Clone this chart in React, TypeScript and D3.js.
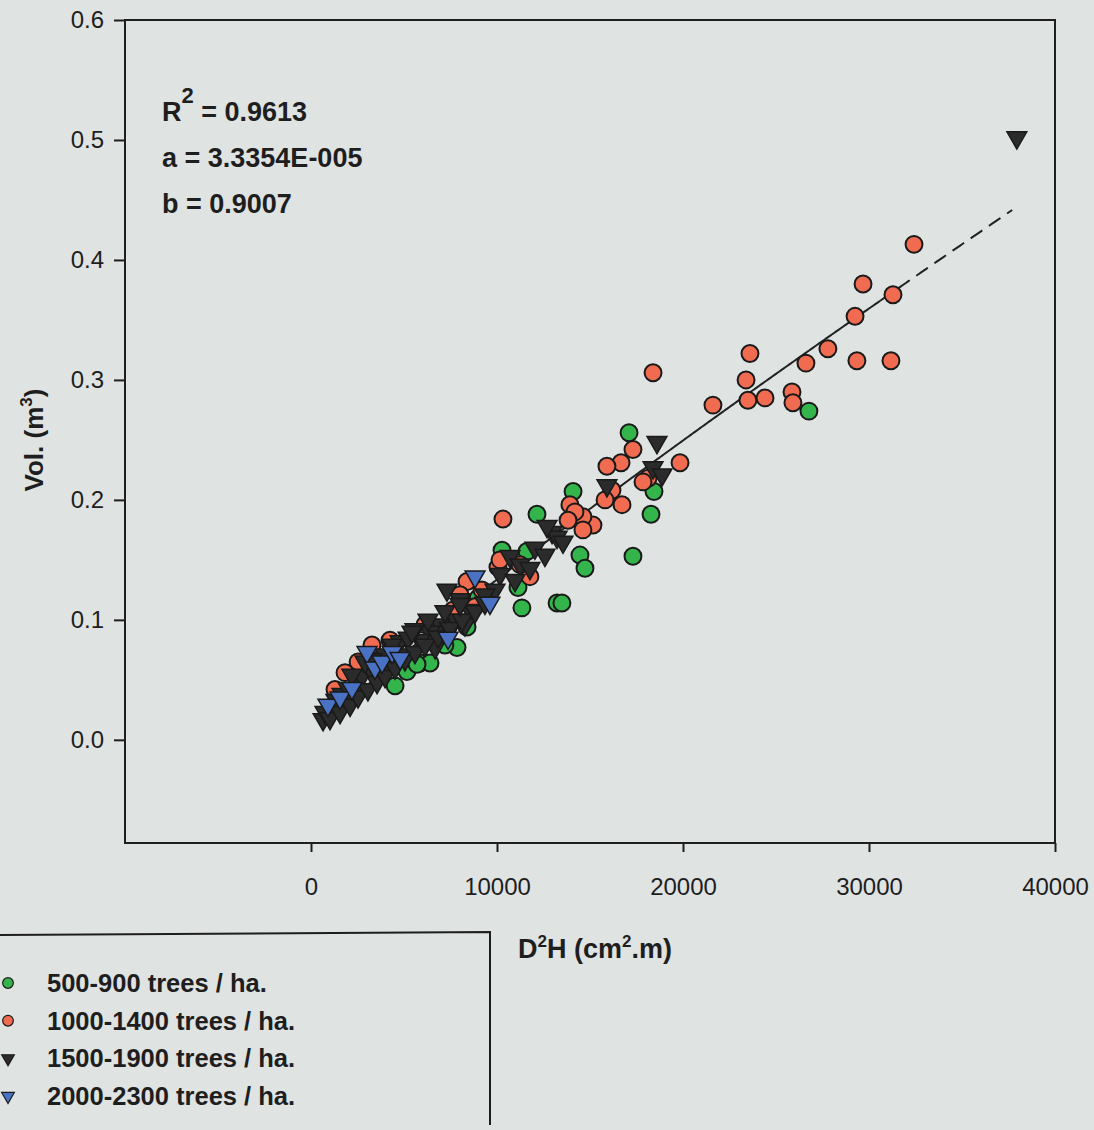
import React, { useEffect, useRef } from 'react';
import * as d3 from 'd3';

// D2H (cm2.m), Vol (m3)
const trees500to900 = [
  [26770, 0.274], [17100, 0.256], [18440, 0.207], [18280, 0.188], [17310, 0.153],
  [14090, 0.207], [14460, 0.154], [14730, 0.143], [12150, 0.188], [10270, 0.158],
  [11610, 0.157], [11130, 0.127], [11340, 0.110], [13230, 0.114], [13490, 0.114],
  [8390, 0.094], [7850, 0.077], [5860, 0.064], [6400, 0.064], [4520, 0.045],
  [5160, 0.057], [5700, 0.063], [7200, 0.079], [8980, 0.118],
];
const trees1000to1400 = [
  [32420, 0.413], [29680, 0.380], [31290, 0.371], [29250, 0.353], [27790, 0.326],
  [26610, 0.314], [29350, 0.316], [31180, 0.316], [23600, 0.322], [23390, 0.300],
  [23490, 0.283], [24410, 0.285], [25860, 0.290], [25910, 0.281], [21610, 0.279],
  [18390, 0.306], [19840, 0.231], [17310, 0.242], [16670, 0.231], [15910, 0.228],
  [18120, 0.218], [17850, 0.215], [16180, 0.208], [15810, 0.200], [16720, 0.196],
  [15160, 0.179], [14620, 0.186], [13920, 0.196], [14190, 0.190], [14620, 0.175],
  [13820, 0.183], [10320, 0.184], [10050, 0.144], [11770, 0.136], [8390, 0.132],
  [9190, 0.125], [8820, 0.111], [7630, 0.108], [1830, 0.056], [2530, 0.065],
  [3280, 0.079], [10160, 0.150], [11240, 0.146], [8010, 0.121], [1290, 0.042],
  [4250, 0.083], [6130, 0.096],
];
const trees1500to1900 = [
  [37950, 0.502], [18600, 0.248], [18390, 0.227], [18870, 0.221], [15910, 0.212],
  [12960, 0.173], [13230, 0.169], [13550, 0.165], [12690, 0.178], [10700, 0.153],
  [11240, 0.146], [11770, 0.143], [10160, 0.138], [10970, 0.133], [9890, 0.125],
  [9350, 0.121], [7310, 0.125], [8010, 0.117], [8550, 0.108], [7740, 0.100],
  [6940, 0.096], [6400, 0.090], [5860, 0.083], [6670, 0.077], [7470, 0.092],
  [8280, 0.096], [650, 0.017], [750, 0.023], [1020, 0.028], [1340, 0.033],
  [1670, 0.038], [1990, 0.043], [2370, 0.050], [2740, 0.053], [3170, 0.060],
  [3600, 0.067], [3980, 0.071], [4410, 0.077], [4790, 0.082], [5220, 0.085],
  [4140, 0.063], [2630, 0.042], [1830, 0.033], [4790, 0.071], [5590, 0.092],
  [2900, 0.065], [1020, 0.018], [1560, 0.023], [2100, 0.029], [2530, 0.036],
  [3060, 0.042], [3550, 0.048], [3980, 0.053], [4520, 0.060], [5050, 0.067],
  [5590, 0.073], [6130, 0.079], [6830, 0.086], [7470, 0.093], [8120, 0.100],
  [8820, 0.107], [9350, 0.114], [2200, 0.054], [3280, 0.067], [4360, 0.079],
  [5430, 0.090], [6290, 0.100], [7200, 0.107], [8010, 0.113], [12040, 0.160],
  [12580, 0.154],
];
const trees2000to2300 = [
  [910, 0.029], [1560, 0.035], [2200, 0.043], [3010, 0.073], [3440, 0.060],
  [3820, 0.065], [4360, 0.073], [4790, 0.068], [7370, 0.085], [8820, 0.136],
  [9620, 0.114],
];

const groupLabels = [
  '500-900 trees / ha.',
  '1000-1400 trees / ha.',
  '1500-1900 trees / ha.',
  '2000-2300 trees / ha.',
];
const groupData = [trees500to900, trees1000to1400, trees1500to1900, trees2000to2300];
const groupFill = ['#33b54b', '#f06b4f', '#2b2b2b', '#4a72c4'];
const groupShape = ['circle', 'circle', 'triangle', 'triangle'];

const xTicks = [0, 10000, 20000, 30000, 40000];
const yTicks = [0.0, 0.1, 0.2, 0.3, 0.4, 0.5, 0.6];

// fitted model Vol = a * (D2H)^b
const fitA = 3.3354e-5;
const fitB = 0.9007;
const fitRange = [700, 30600, 37700];

function App() {
  const ref = useRef(null);

  const width = 1094;
  const height = 1130;
  const box = { left: 125, right: 1055, top: 20, bottom: 843 };

  useEffect(() => {
    drawChart();
  }, []);

  function drawChart() {
    const svg = d3.select(ref.current);
    svg.selectAll('*').remove();

    svg.append('rect')
      .attr('width', width)
      .attr('height', height)
      .attr('fill', '#dfe3e2');

    const x = d3.scaleLinear().domain([-10000, 40000]).range([box.left, box.right]);
    const y = d3.scaleLinear().domain([-0.086, 0.6]).range([box.bottom, box.top]);

    const font = '"Liberation Sans", Arial, sans-serif';

    // frame
    svg.append('rect')
      .attr('x', box.left)
      .attr('y', box.top)
      .attr('width', box.right - box.left)
      .attr('height', box.bottom - box.top)
      .attr('fill', 'none')
      .attr('stroke', '#1e1e1e')
      .attr('stroke-width', 2);

    // y axis
    const yAxis = d3.axisLeft(y)
      .tickValues(yTicks)
      .tickFormat(d3.format('.1f'))
      .tickSize(11)
      .tickPadding(10);
    const gy = svg.append('g')
      .attr('transform', `translate(${box.left},0)`)
      .call(yAxis);
    gy.select('.domain').remove();
    gy.selectAll('line').attr('stroke', '#1e1e1e').attr('stroke-width', 2);
    gy.selectAll('text')
      .attr('font-family', font)
      .attr('font-size', 24)
      .attr('fill', '#1e1e1e');

    // x axis
    const xAxis = d3.axisBottom(x)
      .tickValues(xTicks)
      .tickFormat(d3.format('d'))
      .tickSize(9)
      .tickPadding(26);
    const gx = svg.append('g')
      .attr('transform', `translate(0,${box.bottom})`)
      .call(xAxis);
    gx.select('.domain').remove();
    gx.selectAll('line').attr('stroke', '#1e1e1e').attr('stroke-width', 2);
    gx.selectAll('text')
      .attr('font-family', font)
      .attr('font-size', 24)
      .attr('fill', '#1e1e1e');

    // axis titles
    const yTitle = svg.append('text')
      .attr('transform', `translate(43,440) rotate(-90)`)
      .attr('text-anchor', 'middle')
      .attr('font-family', font)
      .attr('font-weight', 'bold')
      .attr('font-size', 26)
      .attr('fill', '#1e1e1e');
    yTitle.append('tspan').text('Vol. (m');
    yTitle.append('tspan').attr('font-size', 17).attr('dy', -11).text('3');
    yTitle.append('tspan').attr('dy', 11).text(')');

    const xTitle = svg.append('text')
      .attr('x', 518)
      .attr('y', 958)
      .attr('font-family', font)
      .attr('font-weight', 'bold')
      .attr('font-size', 27)
      .attr('fill', '#1e1e1e');
    xTitle.append('tspan').text('D');
    xTitle.append('tspan').attr('font-size', 17).attr('dy', -11).text('2');
    xTitle.append('tspan').attr('dy', 11).text('H (cm');
    xTitle.append('tspan').attr('font-size', 17).attr('dy', -11).text('2');
    xTitle.append('tspan').attr('dy', 11).text('.m)');

    // fitted curve
    const fit = (v) => fitA * Math.pow(v, fitB);
    const curve = d3.line().x((d) => x(d)).y((d) => y(fit(d)));
    const solidPart = d3.range(fitRange[0], fitRange[1], 100).concat([fitRange[1]]);
    const dashedPart = d3.range(fitRange[1], fitRange[2], 100).concat([fitRange[2]]);

    svg.append('path')
      .attr('d', curve(solidPart))
      .attr('fill', 'none')
      .attr('stroke', '#222')
      .attr('stroke-width', 2);
    svg.append('path')
      .attr('d', curve(dashedPart))
      .attr('fill', 'none')
      .attr('stroke', '#222')
      .attr('stroke-width', 2)
      .attr('stroke-dasharray', '14,8');

    // points
    const circle = d3.symbol().type(d3.symbolCircle).size(225);
    const triangle = d3.symbol().type(d3.symbolTriangle).size(170);

    groupData.forEach((points, i) => {
      svg.append('g')
        .selectAll('path')
        .data(points)
        .enter()
        .append('path')
        .attr('d', groupShape[i] === 'circle' ? circle() : triangle())
        .attr('transform', (d) => groupShape[i] === 'circle'
          ? `translate(${x(d[0])},${y(d[1])})`
          : `translate(${x(d[0])},${y(d[1])}) rotate(180)`)
        .attr('fill', groupFill[i])
        .attr('stroke', '#1a1a1a')
        .attr('stroke-width', groupShape[i] === 'circle' ? 2 : 1.5);
    });

    // fit statistics
    const stats = svg.append('g')
      .attr('font-family', font)
      .attr('font-weight', 'bold')
      .attr('font-size', 27)
      .attr('fill', '#1e1e1e');
    const r2 = stats.append('text').attr('x', 162).attr('y', 121);
    r2.append('tspan').text('R');
    r2.append('tspan').attr('font-size', 22).attr('dy', -18).text('2');
    r2.append('tspan').attr('dy', 18).text(' = 0.9613');
    stats.append('text').attr('x', 162).attr('y', 167).text('a = 3.3354E-005');
    stats.append('text').attr('x', 162).attr('y', 213).text('b = 0.9007');

    // legend
    svg.append('path')
      .attr('d', 'M-5,935 L490,932 L490,1125')
      .attr('fill', 'none')
      .attr('stroke', '#1e1e1e')
      .attr('stroke-width', 2);

    const legendCircle = d3.symbol().type(d3.symbolCircle).size(90);
    const legendTriangle = d3.symbol().type(d3.symbolTriangle).size(70);
    const legend = svg.append('g');
    groupLabels.forEach((label, i) => {
      const cy = 983 + i * 37.7;
      legend.append('path')
        .attr('d', groupShape[i] === 'circle' ? legendCircle() : legendTriangle())
        .attr('transform', groupShape[i] === 'circle'
          ? `translate(8,${cy})`
          : `translate(8,${cy}) rotate(180)`)
        .attr('fill', groupFill[i])
        .attr('stroke', '#1a1a1a')
        .attr('stroke-width', 1.2);
      legend.append('text')
        .attr('x', 47)
        .attr('y', cy + 9)
        .attr('font-family', font)
        .attr('font-weight', 'bold')
        .attr('font-size', 25.5)
        .attr('fill', '#1e1e1e')
        .text(label);
    });
  }

  return (
    <svg
      ref={ref}
      width={width}
      height={height}
      style={{ position: 'absolute', left: 0, top: 0 }}
    />
  );
}

export default App;
